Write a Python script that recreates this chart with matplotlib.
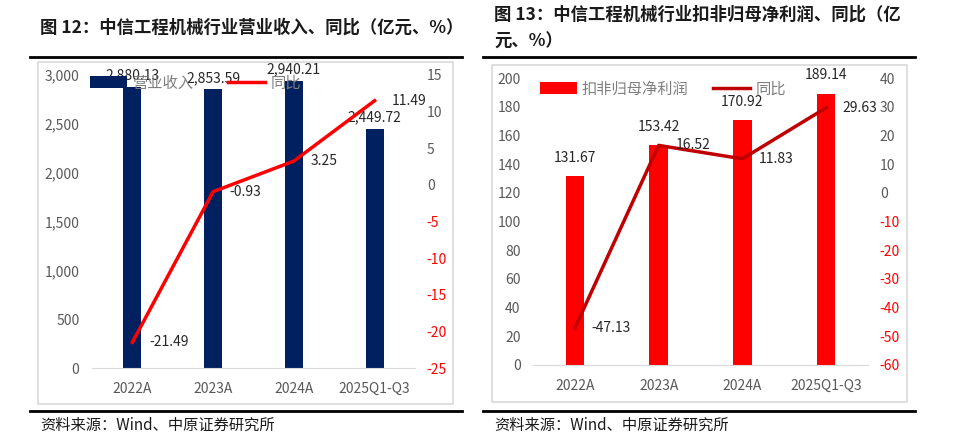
import matplotlib
matplotlib.use("Agg")
import matplotlib.pyplot as plt
from matplotlib.patches import Rectangle
from matplotlib.lines import Line2D
import numpy as np

plt.rcParams['font.family'] = ['Noto Sans CJK SC', 'DejaVu Sans']

categories = ['2022A', '2023A', '2024A', '2025Q1-Q3']
revenue = [2880.13, 2853.59, 2940.21, 2449.72]
revenue_yoy = [-21.49, -0.93, 3.25, 11.49]
profit = [131.67, 153.42, 170.92, 189.14]
profit_yoy = [-47.13, 16.52, 11.83, 29.63]

W, H = 955, 438
GRAY = '#595959'
LABEL = '#262626'

fig = plt.figure(figsize=(W / 100, H / 100), dpi=100)


def px_axes(x0, y0, x1, y1):
    """axes from pixel box (top-left origin)"""
    return fig.add_axes([x0 / W, 1 - y1 / H, (x1 - x0) / W, (y1 - y0) / H])


def frame(x0, y0, x1, y1):
    fig.patches.append(Rectangle((x0 / W, 1 - y1 / H), (x1 - x0) / W, (y1 - y0) / H,
                                 transform=fig.transFigure, fill=False,
                                 edgecolor='#D9D9D9', linewidth=1.2))


def hline(x0, x1, y):
    fig.add_artist(Line2D([x0 / W, x1 / W], [1 - y / H, 1 - y / H],
                          transform=fig.transFigure, color='black', linewidth=2))


def panel(box, bars, bar_color, yoy, line_color, ylim, y2lim, yticks, y2ticks,
          bar_name, bar_fmt, bar_off, leg_xy, colspace):
    ax = px_axes(*box)
    x = np.arange(len(categories))
    ax.bar(x, bars, width=0.22, color=bar_color, zorder=2, label=bar_name)
    ax.set_xlim(-0.5, len(categories) - 0.5)
    ax.set_ylim(*ylim)
    ax.set_yticks(yticks)
    ax.set_yticklabels([f'{v:,.0f}' for v in yticks])
    ax.set_xticks(x)
    ax.set_xticklabels(categories)
    ax.tick_params(length=0, labelsize=10, colors=GRAY)
    ax.tick_params(axis='x', pad=10)
    ax.tick_params(axis='y', pad=9)
    for s in ['top', 'right', 'left']:
        ax.spines[s].set_visible(False)
    ax.spines['bottom'].set_color('#D9D9D9')
    ax.patch.set_alpha(0)
    for xi, v in zip(x, bars):
        ax.annotate(bar_fmt(v), (xi, v), xytext=(0, bar_off), textcoords='offset points',
                    ha='center', va='bottom', fontsize=10, color=LABEL, zorder=5)

    ax2 = ax.twinx()
    ax2.plot(x, yoy, color=line_color, linewidth=2.5, zorder=3, label='同比')
    ax2.set_ylim(*y2lim)
    ax2.set_yticks(y2ticks)
    ax2.set_yticklabels([f'{v:g}' for v in y2ticks])
    ax2.tick_params(length=0, labelsize=10, pad=8.5)
    for t, v in zip(ax2.get_yticklabels(), y2ticks):
        t.set_color('#FF0000' if v < 0 else GRAY)
    for s in ax2.spines.values():
        s.set_visible(False)
    for xi, v in zip(x, yoy):
        ax2.annotate(f'{v:.2f}', (xi, v), xytext=(12, 0), textcoords='offset points',
                     ha='left', va='center', fontsize=10, color=LABEL, zorder=5)

    h1, l1 = ax.get_legend_handles_labels()
    h2, l2 = ax2.get_legend_handles_labels()
    leg = fig.legend(h1 + h2, l1 + l2, loc='center left',
                     bbox_to_anchor=(leg_xy[0] / W, 1 - leg_xy[1] / H),
                     ncol=2, frameon=False, fontsize=11, handlelength=2.4,
                     handleheight=0.8, handletextpad=0.35, columnspacing=colspace,
                     labelcolor='#7F7F7F', borderpad=0, borderaxespad=0)
    leg.set_zorder(0.5)
    return ax, ax2


# left panel
fig.text(40 / W, 1 - 28 / H, '图 12：中信工程机械行业营业收入、同比（亿元、%）',
         fontsize=12.5, fontweight='bold', va='center', color='#1a1a1a')
hline(30, 462, 57)
frame(38, 62, 453, 404)
panel((92, 75, 415, 368), revenue, '#002060', revenue_yoy, '#FF0000',
      (0, 3000), (-25, 15), np.arange(0, 3001, 500), np.arange(-25, 16, 5),
      '营业收入', lambda v: f'{v:,.2f}', 3, (90, 83), 2.3)
hline(30, 462, 411)
fig.text(40 / W, 1 - 425 / H, '资料来源：Wind、中原证券研究所', fontsize=11, va='center',
         color='#1a1a1a')

# right panel
fig.text(494 / W, 1 - 15 / H, '图 13：中信工程机械行业扣非归母净利润、同比（亿',
         fontsize=12.5, fontweight='bold', va='center', color='#1a1a1a')
fig.text(494 / W, 1 - 42 / H, '元、%）', fontsize=12.5, fontweight='bold',
         va='center', color='#1a1a1a')
hline(483, 915, 57)
frame(492, 65, 907, 402)
panel((533, 78, 868, 365), profit, '#FF0000', profit_yoy, '#C00000',
      (0, 200), (-60, 40), np.arange(0, 201, 20), np.arange(-60, 41, 10),
      '扣非归母净利润', lambda v: f'{v:.2f}', 8, (540, 89), 1.6)
hline(483, 915, 411)
fig.text(494 / W, 1 - 425 / H, '资料来源：Wind、中原证券研究所', fontsize=11, va='center',
         color='#1a1a1a')

fig.savefig('out.png', dpi=100)
